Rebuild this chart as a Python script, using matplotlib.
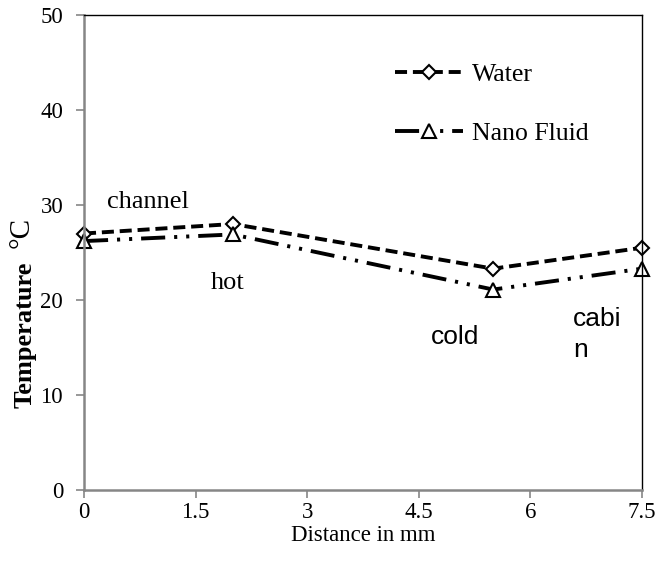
import matplotlib
matplotlib.use('Agg')
import matplotlib.pyplot as plt

distance = [0, 2, 5.5, 7.5]
water = [27.0, 28.0, 23.3, 25.5]
nano = [26.2, 26.9, 21.1, 23.3]
xticks = [0, 1.5, 3, 4.5, 6, 7.5]
yticks = [0, 10, 20, 30, 40, 50]

plt.rcParams['font.family'] = 'Liberation Serif'

fig = plt.figure(figsize=(6.58, 5.7), dpi=100)
# axes box in pixels: left 84, right 642, top 15, bottom 490
ax = fig.add_axes([84/658, 1-490/570, (642-84)/658, (490-15)/570])

ax.plot(distance, water, color='k', lw=2.8, linestyle=(0, (3.1, 1.5)),
        marker='D', ms=7.5, mfc='white', mec='k', mew=1.5, label='Water', clip_on=False)
ax.plot(distance, nano, color='k', lw=2.8, linestyle=(0, (6.2, 2.3, 0.8, 2.3, 0.8, 2.3)),
        marker='^', ms=9.5, mfc='white', mec='k', mew=1.5, label='Nano Fluid', clip_on=False)

ax.set_xlim(0, 7.5)
ax.set_ylim(0, 50)
ax.set_xticks(xticks)
ax.set_xticklabels([str(t) for t in xticks])
ax.set_yticks(yticks)

gray = '#868686'
for s in ['left', 'bottom']:
    ax.spines[s].set_color(gray)
    ax.spines[s].set_linewidth(1.8)
for s in ['top', 'right']:
    ax.spines[s].set_color('k')
    ax.spines[s].set_linewidth(1.0)
ax.tick_params(axis='both', direction='out', color=gray, width=1.2, length=6,
               labelsize=16.5)
ax.tick_params(axis='x', pad=3)
ax.tick_params(axis='y', pad=9)

ax.set_xlabel('Distance in mm', fontsize=16.5, labelpad=1)
fig.text(25/658, 1-335/570, 'Temperature', fontsize=19, fontweight='bold',
         rotation=90, ha='center', va='center')
fig.text(22/658, 1-232/570, '°C', fontsize=21, rotation=90, ha='center', va='center')

ax.text(0.31, 30.3, 'channel', fontsize=19, va='center')
ax.text(1.93, 21.8, 'hot', fontsize=19, ha='center', va='center')
ax.text(4.99, 16.1, 'cold', fontsize=19, ha='center', va='center',
        family='Liberation Sans')
ax.text(6.57, 16.4, 'cabi\nn', fontsize=19, ha='left', va='center',
        family='Liberation Sans', linespacing=1.35)

leg = ax.legend(loc='upper left', bbox_to_anchor=(0.557, 0.898), frameon=False,
                fontsize=18.5, handlelength=2.65, labelspacing=1.37, handletextpad=0.35,
                borderpad=0, borderaxespad=0)

fig.savefig('out.png', dpi=100)
